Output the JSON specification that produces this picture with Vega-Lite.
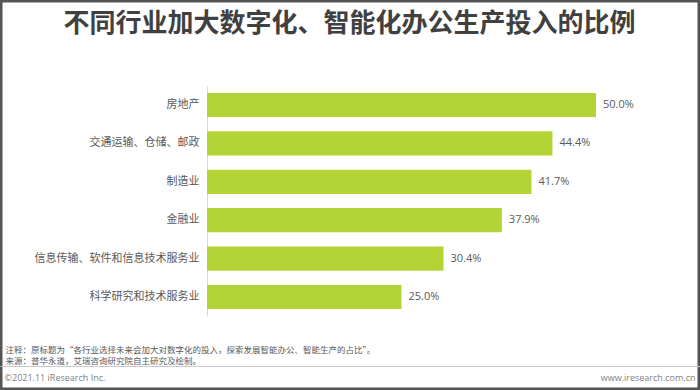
{
  "$schema": "https://vega.github.io/schema/vega-lite/v6.json",
  "width": 700,
  "height": 390,
  "autosize": {"type": "none"},
  "padding": 0,
  "background": "white",
  "data": {
    "values": [
      {"industry": "房地产", "share": 0.5},
      {"industry": "交通运输、仓储、邮政", "share": 0.444},
      {"industry": "制造业", "share": 0.417},
      {"industry": "金融业", "share": 0.379},
      {"industry": "信息传输、软件和信息技术服务业", "share": 0.304},
      {"industry": "科学研究和技术服务业", "share": 0.25}
    ]
  },
  "encoding": {
    "y": {
      "field": "industry",
      "type": "nominal",
      "sort": null,
      "scale": {"range": [86, 316], "paddingInner": 0.37, "paddingOuter": 0.18}
    }
  },
  "layer": [
    {
      "mark": {"type": "bar", "color": "#b4d334"},
      "encoding": {
        "x": {
          "field": "share",
          "type": "quantitative",
          "scale": {"domain": [-0.26607, 0.63368], "zero": false, "nice": false},
          "axis": {
            "orient": "bottom",
            "offset": -24,
            "labels": false,
            "ticks": false,
            "grid": false,
            "domain": true,
            "domainColor": "#c8c8c8",
            "domainWidth": 1,
            "title": ["注释：原标题为“各行业选择未来会加大对数字化的投入，探索发展智能办公、智能生产的占比”。", "来源：普华永道，艾瑞咨询研究院自主研究及绘制。"],
            "titleFont": "Noto Sans CJK SC",
            "titleFontSize": 8.5,
            "titleFontWeight": "normal",
            "titleColor": "#595959",
            "titleLineHeight": 11,
            "titleAlign": "left",
            "titleAnchor": "start",
            "titleBaseline": "top",
            "titleX": 5,
            "titleY": -21
          }
        },
        "x2": {"datum": 0},
        "y": {
          "field": "industry",
          "type": "nominal",
          "sort": null,
          "axis": {
            "orient": "left",
            "offset": -207,
            "ticks": false,
            "domain": true,
            "domainColor": "#d9d9d9",
            "domainWidth": 1,
            "labelFont": "Noto Sans CJK SC",
            "labelFontSize": 11,
            "labelColor": "#595959",
            "labelPadding": 8,
            "labelLimit": 250,
            "title": "©2021.11 iResearch Inc.",
            "titleFont": "Open Sans",
            "titleFontSize": 9,
            "titleFontWeight": "normal",
            "titleColor": "#7f7f7f",
            "titleAngle": 0,
            "titleAlign": "left",
            "titleBaseline": "middle",
            "titleX": -203,
            "titleY": 377
          }
        }
      }
    },
    {
      "mark": {
        "type": "text",
        "align": "left",
        "baseline": "middle",
        "dx": 7,
        "font": "Open Sans",
        "fontSize": 11,
        "color": "#595959"
      },
      "encoding": {
        "x": {
          "field": "share",
          "type": "quantitative",
          "axis": {
            "orient": "top",
            "labels": false,
            "ticks": false,
            "domain": false,
            "grid": false,
            "title": "不同行业加大数字化、智能化办公生产投入的比例",
            "titleFont": "Noto Sans CJK SC",
            "titleFontSize": 26,
            "titleFontWeight": "bold",
            "titleColor": "#404040",
            "titleAlign": "center",
            "titleAnchor": "middle",
            "titleBaseline": "middle",
            "titleX": 349,
            "titleY": 23
          }
        },
        "text": {"field": "share", "type": "quantitative", "format": ".1%"},
        "y": {
          "field": "industry",
          "type": "nominal",
          "sort": null,
          "axis": {
            "orient": "right",
            "labels": false,
            "ticks": false,
            "domain": false,
            "title": "www.iresearch.com.cn",
            "titleFont": "Open Sans",
            "titleFontSize": 9,
            "titleFontWeight": "normal",
            "titleColor": "#7f7f7f",
            "titleAngle": 0,
            "titleAlign": "right",
            "titleBaseline": "middle",
            "titleX": -5,
            "titleY": 377
          }
        }
      }
    }
  ],
  "resolve": {"axis": {"y": "independent", "x": "independent"}},
  "config": {
    "view": {"stroke": "#555555", "strokeWidth": 5},
    "axis": {"grid": false}
  }
}
